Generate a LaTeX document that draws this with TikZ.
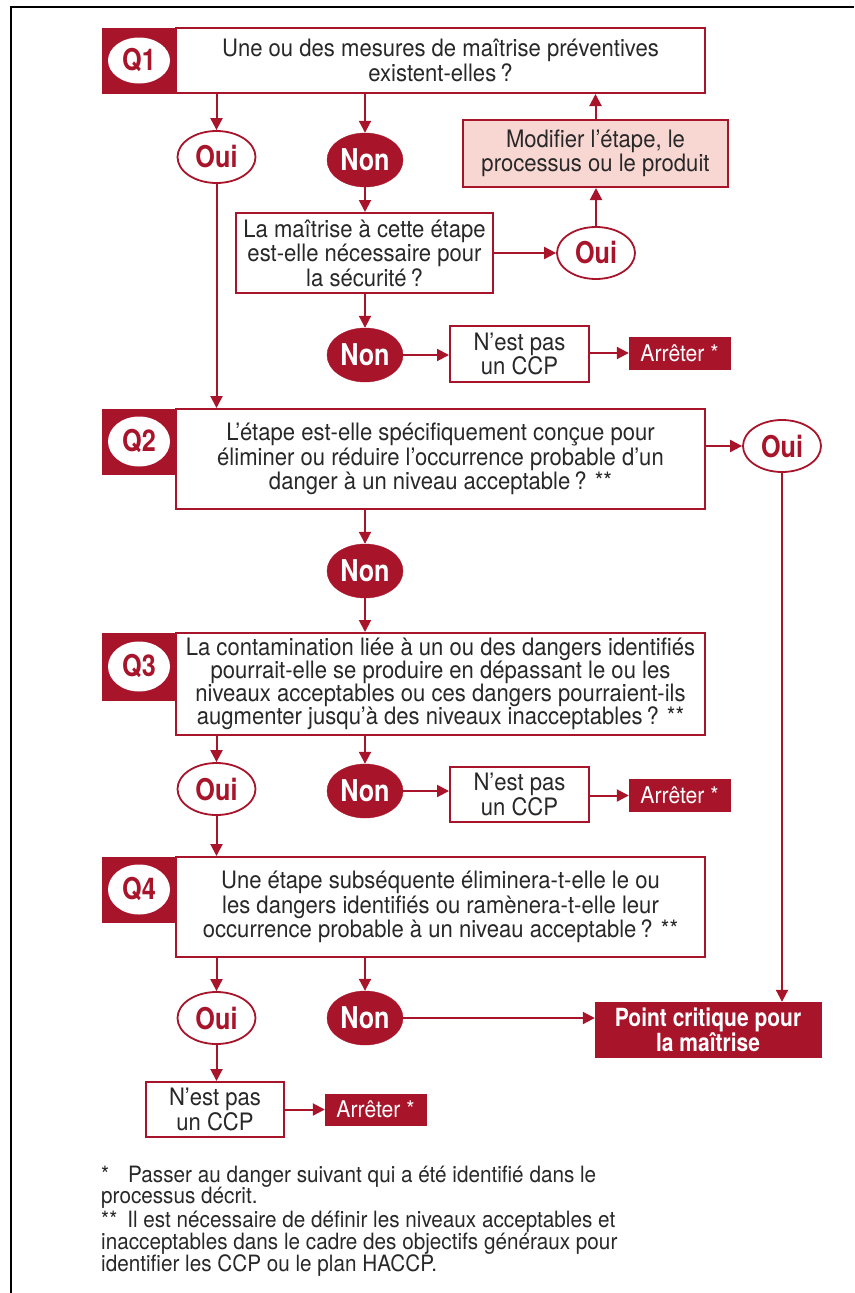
\documentclass[tikz,border=0pt]{standalone}
\usepackage{fontspec}
\setmainfont[FakeStretch=0.92]{TeX Gyre Heros}
\newfontfamily\condfont[FakeStretch=0.84]{TeX Gyre Heros}
\usetikzlibrary{arrows.meta,shapes.geometric}
\definecolor{hred}{RGB}{168,20,42}
\definecolor{hpink}{RGB}{248,215,210}
\definecolor{htxt}{RGB}{40,40,40}
\newcommand\ftxt{\fontsize{24}{24.5}\selectfont}
\newcommand\ftxtq{\fontsize{24}{23.2}\selectfont}
\newcommand\fyn{\condfont\bfseries\fontsize{30}{30}\selectfont}
\newcommand\fpc{\condfont\bfseries\fontsize{25}{23}\selectfont}
\newcommand\fstop{\fontsize{23}{22}\selectfont}
\newcommand\fnote{\fontsize{22.5}{22}\selectfont}
\begin{document}
\begin{tikzpicture}[x=1pt,y=-1pt,
  qsq/.style={fill=hred, draw=hred, line width=1pt, minimum width=74pt, inner sep=0pt},
  qlab/.style={ellipse, fill=white, minimum width=62pt, minimum height=50pt, inner sep=0pt, text=hred, font=\fyn},
  qbox/.style={draw=hred, line width=2pt, fill=white, minimum width=529pt, inner sep=0pt, align=center, text=htxt, font=\ftxt},
  tbox/.style={draw=hred, line width=2pt, fill=white, inner sep=0pt, align=center, text=htxt, font=\ftxt},
  oui/.style={ellipse, draw=hred, line width=1.8pt, fill=white, minimum width=78pt, minimum height=52pt, inner sep=0pt, text=hred, font=\fyn},
  non/.style={ellipse, fill=hred, draw=hred, minimum width=76pt, minimum height=54pt, inner sep=0pt, text=white, font=\fyn},
  stopbox/.style={fill=hred, draw=hred, minimum width=101pt, minimum height=32pt, inner sep=0pt, text=white, font=\fstop},
  pcbox/.style={fill=hred, draw=hred, minimum width=226pt, minimum height=55pt, inner sep=0pt, align=center, text=white, font=\fpc},
  arr/.style={draw=hred, line width=2pt, -{Triangle[length=12pt,width=12pt]}},
  fnline/.style={anchor=base west, inner sep=0pt, text=htxt, font=\fnote}
]
\useasboundingbox (0,0) rectangle (854,1293);
\fill[white] (0,0) rectangle (854,1293);
\draw[line width=2.5pt, black] (11,1293) -- (11,7) -- (854,7);

% ---------- Q1 ----------
\node[qbox, minimum height=65pt] (q1) at (440.5,60.5) {Une ou des mesures de maîtrise préventives\\existent-elles\,?};
\node[qsq, minimum height=65pt] (q1s) at (139,60.5) {};
\node[qlab, minimum height=46pt] (q1l) at (q1s) {Q1};

\node[oui] (oui1) at (216.5,157) {Oui};
\node[non] (non1) at (365,160) {Non};
\node[tbox, fill=hpink, minimum width=265pt, minimum height=67pt] (mod) at (595.5,153.5) {Modifier l’étape, le\\processus ou le produit};
\node[tbox, minimum width=257pt, minimum height=80pt] (secu) at (364.5,253) {La maîtrise à cette étape\\est-elle nécessaire pour\\la sécurité\,?};
\node[oui] (oui2) at (596,253) {Oui};
\node[non] (non2) at (365,355) {Non};
\node[tbox, minimum width=139pt, minimum height=56pt] (ncc1) at (519.5,354) {N’est pas\\un CCP};
\node[stopbox] (stop1) at (679.5,353) {Arrêter *};

\draw[arr] (q1.south -| oui1) -- (oui1.north);
\draw[arr] (q1.south -| non1) -- (non1.north);
\draw[arr] (mod.north) -- (mod.north |- q1.south);
\draw[arr] (oui2.north) -- (oui2.north |- mod.south);
\draw[arr] (non1.south) -- (non1.south |- secu.north);
\draw[arr] (secu.east) -- (oui2.west);
\draw[arr] (secu.south -| non2) -- (non2.north);
\draw[arr] (non2.east) -- (non2.east -| ncc1.west);
\draw[arr] (ncc1.east |- stop1) -- (stop1.west);

% ---------- Q2 ----------
\node[qbox, minimum height=100pt] (q2) at (440.5,459) {L’étape est-elle spécifiquement conçue pour\\éliminer ou réduire l’occurrence probable d’un\\danger à un niveau acceptable\,? **};
\node[qsq, minimum height=65pt] (q2s) at (139,441.5) {};
\node[qlab] (q2l) at (q2s) {Q2};
\node[oui] (oui3) at (782,446) {Oui};
\node[non] (non3) at (365,571) {Non};

\draw[arr] (oui1.south) -- (oui1.south |- q2.north);
\draw[arr] (q2.east |- oui3.west) -- (oui3.west);
\draw[arr] (q2.south -| non3) -- (non3.north);

% ---------- Q3 ----------
\node[qbox, minimum height=102pt, font=\ftxtq] (q3) at (440.5,684) {La contamination liée à un ou des dangers identifiés\\pourrait-elle se produire en dépassant le ou les\\niveaux acceptables ou ces dangers pourraient-ils\\augmenter jusqu’à des niveaux inacceptables\,? **};
\node[qsq, minimum height=67pt] (q3s) at (139,666.5) {};
\node[qlab] (q3l) at (q3s) {Q3};
\node[oui] (oui4) at (216.5,789) {Oui};
\node[non] (non4) at (365,791) {Non};
\node[tbox, minimum width=139pt, minimum height=55pt] (ncc2) at (519.5,794.5) {N’est pas\\un CCP};
\node[stopbox] (stop2) at (679.5,795.5) {Arrêter *};

\draw[arr] (non3.south) -- (non3.south |- q3.north);
\draw[arr] (q3.south -| oui4) -- (oui4.north);
\draw[arr] (q3.south -| non4) -- (non4.north);
\draw[arr] (non4.east) -- (non4.east -| ncc2.west);
\draw[arr] (ncc2.east |- stop2) -- (stop2.west);

% ---------- Q4 ----------
\node[qbox, minimum height=100pt] (q4) at (440.5,907) {Une étape subséquente éliminera-t-elle le ou\\les dangers identifiés ou ramènera-t-elle leur\\occurrence probable à un niveau acceptable\,? **};
\node[qsq, minimum height=65pt] (q4s) at (139,889.5) {};
\node[qlab] (q4l) at (q4s) {Q4};
\node[oui] (oui5) at (216.5,1018) {Oui};
\node[non] (non5) at (365,1018) {Non};
\node[pcbox] (pc) at (708,1029.5) {Point critique pour\\la maîtrise};
\node[tbox, minimum width=138pt, minimum height=55pt] (ncc3) at (215,1109.5) {N’est pas\\un CCP};
\node[stopbox, minimum height=31pt] (stop3) at (375.5,1109.5) {Arrêter *};

\draw[arr] (oui4.south) -- (oui4.south |- q4.north);
\draw[arr] (q4.south -| oui5) -- (oui5.north);
\draw[arr] (q4.south -| non5) -- (non5.north);
\draw[arr] (non5.east) -- (non5.east -| pc.west);
\draw[arr] (oui3.south) -- (oui3.south |- pc.north);
\draw[arr] (oui5.south) -- (oui5.south |- ncc3.north);
\draw[arr] (ncc3.east |- stop3) -- (stop3.west);

% ---------- footnotes ----------
\node[fnline] (fn1) at (101,1182) {*\hspace{19pt}Passer au danger suivant qui a été identifié dans le};
\node[fnline] (fn2) at (101,1203) {processus décrit.};
\node[fnline] (fn3) at (101,1227) {**\hspace{10pt}Il est nécessaire de définir les niveaux acceptables et};
\node[fnline] (fn4) at (101,1249) {inacceptables dans le cadre des objectifs généraux pour};
\node[fnline] (fn5) at (101,1271) {identifier les CCP ou le plan HACCP.};
\end{tikzpicture}
\end{document}
